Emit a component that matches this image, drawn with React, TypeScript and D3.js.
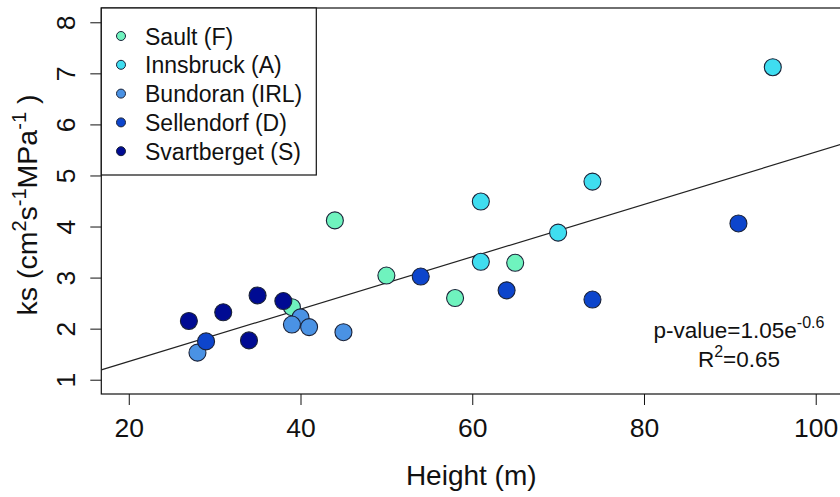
import { useEffect, useRef } from 'react';
import * as d3 from 'd3';

// sites, in the order they are drawn (later ones on top)
const sites = ['Sault (F)', 'Innsbruck (A)', 'Bundoran (IRL)', 'Sellendorf (D)', 'Svartberget (S)'];
const siteColors = ['#6FF3BE', '#3FDDF0', '#4A92E4', '#0D45CC', '#000B93'];

// height (m) and ks for every tree, per site
const saultHeight = [39, 44, 50, 58, 65];
const saultKs = [2.42, 4.12, 3.04, 2.6, 3.29];
const innsbruckHeight = [61, 61, 70, 74, 95];
const innsbruckKs = [4.49, 3.31, 3.88, 4.88, 7.12];
const bundoranHeight = [40, 39, 41, 45, 28];
const bundoranKs = [2.22, 2.08, 2.03, 1.93, 1.53];
const sellendorfHeight = [29, 54, 64, 74, 91];
const sellendorfKs = [1.75, 3.02, 2.75, 2.57, 4.06];
const svartbergetHeight = [27, 31, 34, 35, 38];
const svartbergetKs = [2.15, 2.32, 1.77, 2.65, 2.54];

// linear fit ks ~ height
const fitIntercept = 0.33;
const fitSlope = 0.0513;

const xTicks = [20, 40, 60, 80, 100];
const yTicks = [1, 2, 3, 4, 5, 6, 7, 8];

const W = 840;
const H = 497;
const FONT = '"Liberation Sans", Arial, sans-serif';

const App = () => {
  const ref = useRef<SVGSVGElement | null>(null);

  useEffect(() => {
    const svg = d3.select(ref.current);
    svg.selectAll('*').remove();

    const plot = { left: 101.3, right: 843.2, top: 8, bottom: 394 };

    // R style: limits 20..100 and 1..8 widened by 4%
    const x = d3.scaleLinear().domain([16.8, 103.2]).range([plot.left, plot.right]);
    const y = d3.scaleLinear().domain([0.72, 8.28]).range([plot.bottom, plot.top]);

    svg.append('rect').attr('width', W).attr('height', H).attr('fill', 'white');

    svg.append('defs').append('clipPath').attr('id', 'plotclip')
      .append('rect')
      .attr('x', plot.left).attr('y', plot.top)
      .attr('width', plot.right - plot.left).attr('height', plot.bottom - plot.top);

    // x axis
    const xAxis = svg.append('g')
      .attr('transform', `translate(0,${plot.bottom})`)
      .call(d3.axisBottom(x).tickValues(xTicks).tickSize(11).tickPadding(5).tickFormat(d3.format('d')));
    xAxis.select('.domain').remove();
    xAxis.selectAll('line').attr('stroke', '#111').attr('stroke-width', 1);
    xAxis.selectAll('text')
      .attr('font-family', FONT).attr('font-size', 26.5).attr('fill', '#111')
      .attr('dy', null).attr('y', 43);

    // y axis, labels turned like R's las = 0
    const yAxis = svg.append('g')
      .attr('transform', `translate(${plot.left},0)`)
      .call(d3.axisLeft(y).tickValues(yTicks).tickSize(11).tickFormat(d3.format('d')));
    yAxis.select('.domain').remove();
    yAxis.selectAll('line').attr('stroke', '#111').attr('stroke-width', 1);
    yAxis.selectAll('text')
      .attr('font-family', FONT).attr('font-size', 26.5).attr('fill', '#111')
      .attr('x', null).attr('dy', null)
      .attr('text-anchor', 'middle')
      .attr('transform', 'translate(-26.5,0) rotate(-90)');

    // frame
    svg.append('rect')
      .attr('x', plot.left).attr('y', plot.top)
      .attr('width', plot.right - plot.left).attr('height', plot.bottom - plot.top)
      .attr('fill', 'none').attr('stroke', '#111').attr('stroke-width', 1.2);

    // regression line
    const fitX = x.domain();
    svg.append('line')
      .attr('clip-path', 'url(#plotclip)')
      .attr('x1', x(fitX[0])).attr('y1', y(fitIntercept + fitSlope * fitX[0]))
      .attr('x2', x(fitX[1])).attr('y2', y(fitIntercept + fitSlope * fitX[1]))
      .attr('stroke', '#222').attr('stroke-width', 1.2);

    // points
    const heights = [saultHeight, innsbruckHeight, bundoranHeight, sellendorfHeight, svartbergetHeight];
    const ks = [saultKs, innsbruckKs, bundoranKs, sellendorfKs, svartbergetKs];
    const points = sites.flatMap((s, i) => heights[i].map((h, j) => ({ h, k: ks[i][j], c: siteColors[i] })));
    svg.append('g').selectAll('circle')
      .data(points)
      .join('circle')
      .attr('cx', d => x(d.h))
      .attr('cy', d => y(d.k))
      .attr('r', 8.5)
      .attr('fill', d => d.c)
      .attr('stroke', '#1a2238')
      .attr('stroke-width', 1.1);

    // legend
    const lg = svg.append('g');
    lg.append('rect')
      .attr('x', plot.left).attr('y', plot.top)
      .attr('width', 215).attr('height', 167)
      .attr('fill', 'white').attr('stroke', '#111').attr('stroke-width', 1.2);
    sites.forEach((s, i) => {
      const cy = 36 + i * 28.8;
      lg.append('circle').attr('cx', 121).attr('cy', cy).attr('r', 4.5)
        .attr('fill', siteColors[i]).attr('stroke', '#1a2238').attr('stroke-width', 1);
      lg.append('text').attr('x', 145).attr('y', cy + 8.5)
        .attr('font-family', FONT).attr('font-size', 23).attr('fill', '#111')
        .text(s);
    });

    // axis titles
    svg.append('text')
      .attr('x', (plot.left + plot.right) / 2 - 1).attr('y', 485)
      .attr('text-anchor', 'middle')
      .attr('font-family', FONT).attr('font-size', 28).attr('fill', '#111')
      .text('Height (m)');

    const yt = svg.append('text')
      .attr('transform', `translate(37,205) rotate(-90)`)
      .attr('text-anchor', 'middle')
      .attr('font-family', FONT).attr('font-size', 28.5).attr('fill', '#111');
    const sup = (t: string) => yt.append('tspan').attr('dy', -11).attr('font-size', 20).text(t);
    const base = (t: string) => yt.append('tspan').attr('dy', 11).text(t);
    yt.append('tspan').text('ks (cm');
    sup('2'); base('s'); sup('-1'); base('MPa'); sup('-1'); base(' )');

    // statistics
    const st = svg.append('g').attr('font-family', FONT).attr('fill', '#111');
    const p = st.append('text').attr('x', 739).attr('y', 338).attr('text-anchor', 'middle').attr('font-size', 22.5);
    p.append('tspan').text('p-value=1.05e');
    p.append('tspan').attr('dy', -10).attr('font-size', 16).text('-0.6');
    const r = st.append('text').attr('x', 739).attr('y', 367).attr('text-anchor', 'middle').attr('font-size', 22.5);
    r.append('tspan').text('R');
    r.append('tspan').attr('dy', -10).attr('font-size', 16).text('2');
    r.append('tspan').attr('dy', 10).text('=0.65');
  }, []);

  return (
    <svg ref={ref} width={W} height={H} style={{ position: 'absolute', left: 0, top: 0, display: 'block' }} />
  );
};

export default App;
